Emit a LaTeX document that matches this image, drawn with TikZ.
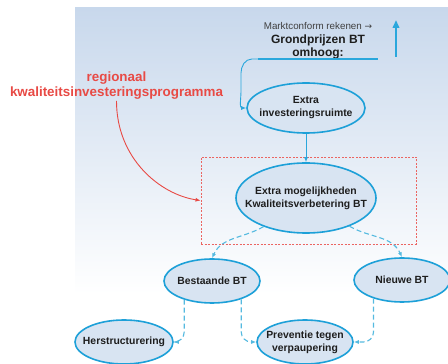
\documentclass[tikz,border=0pt]{standalone}
\usepackage{fontspec}
\setmainfont{Liberation Sans}
\newfontfamily\symfont{DejaVu Sans}
\usetikzlibrary{shapes.geometric,arrows.meta,calc}
\definecolor{panel}{HTML}{C8D8EC}
\definecolor{ring}{HTML}{1DA0D8}
\definecolor{bubblefill}{HTML}{D8E4F2}
\definecolor{link}{HTML}{2AA7DC}
\definecolor{dlink}{HTML}{55BAE0}
\definecolor{alert}{HTML}{E84A45}
\definecolor{ink}{HTML}{1E1E1E}

\begin{document}
\begin{tikzpicture}[x=1pt,y=1pt,
  bubble/.style={ellipse, draw=ring, line width=1.6pt, fill=bubblefill, inner sep=0pt},
  lbl/.style={align=center, text=ink, inner sep=0pt,
    font=\fontsize{10.4}{13}\selectfont\bfseries},
  solidlink/.style={draw=link, line width=0.9pt, -{Latex[length=5pt,width=4pt]}},
  dashlink/.style={draw=dlink, line width=1.1pt, dash pattern=on 5pt off 3pt,
    -{Latex[length=5pt,width=4pt]}},
]
\useasboundingbox (0,0) rectangle (448,364);
\fill[white] (0,0) rectangle (448,364);
% background panel fading to white
\shade[top color=panel, bottom color=white] (75,70) rectangle (448,356);

% market note at the top
\node[font=\fontsize{9.8}{12}\selectfont, text=ink!85, inner sep=0pt] (mkt) at (318,338)
  {Marktconform rekenen {\symfont\fontsize{9}{12}\selectfont →}};
\node[font=\fontsize{12}{14}\selectfont\bfseries, text=ink, inner sep=0pt] (grond) at (318,324) {Grondprijzen BT};
\node[font=\fontsize{12}{14}\selectfont\bfseries, text=ink, inner sep=0pt] (omhoog) at (318,311) {omhoog:};
\coordinate (ul1) at (258,305);
\coordinate (ul2) at (378,305);
\draw[link, line width=1.6pt] (ul1) -- (ul2);
\coordinate (upA) at (396,307);
\coordinate (upB) at (396,344);
\draw[link, line width=2.2pt, -{Triangle[length=8pt,width=6.5pt]}] (upA) -- (upB);

% red programme label
\node[font=\fontsize{13.4}{15}\selectfont\bfseries, text=alert, align=center, inner sep=0pt] (kwal) at (116.5,278)
  {regionaal\\kwaliteitsinvesteringsprogramma};

% ellipses
\node[bubble, minimum width=118pt, minimum height=50pt,
  label={[lbl]center:{Extra\\investeringsruimte}}] (inv) at (306,256) {};
\node[draw=alert!85, dash pattern=on 2pt off 1.5pt, line width=0.9pt,
  minimum width=215pt, minimum height=87pt, inner sep=0pt] (focus) at (308.5,163.5) {};
\node[bubble, minimum width=140pt, minimum height=70pt,
  label={[lbl]center:{Extra mogelijkheden\\Kwaliteitsverbetering BT}}] (mog) at (306,166) {};
\node[bubble, minimum width=96pt, minimum height=44pt,
  label={[lbl]center:{Bestaande BT}}] (best) at (212,83) {};
\node[bubble, minimum width=96pt, minimum height=44pt,
  label={[lbl]center:{Nieuwe BT}}] (nieuw) at (402,84) {};
\node[bubble, minimum width=98pt, minimum height=44pt,
  label={[lbl]center:{Herstructurering}}] (herst) at (124,22) {};
\node[bubble, minimum width=96pt, minimum height=44pt,
  label={[lbl]center:{Preventie tegen\\verpaupering}}] (prev) at (305,22) {};

% connectors
\draw[solidlink] (ul1) -- ++(-6,0) to[out=180,in=90] ++(-11,-14) -- ++(0,-18)
  to[out=-90,in=180] (inv.west);
\draw[solidlink] (inv.south) -- (mog.north);
\draw[draw=alert, line width=0.9pt, -{Latex[length=5pt,width=4pt]}]
  ([yshift=-1pt]kwal.south) .. controls +(0,-58) and +(-40,6) .. (focus.west);
\draw[dashlink] (mog.214) to[out=-150,in=65] (best.north);
\draw[dashlink] (mog.-33) to[out=-30,in=115] (nieuw.north);
\draw[dashlink, rounded corners=10pt] (best.214) |- (herst.east);
\draw[dashlink, rounded corners=10pt] (best.-32) |- (prev.west);
\draw[dashlink, rounded corners=10pt] (nieuw.213) |- (prev.east);
\end{tikzpicture}
\end{document}
